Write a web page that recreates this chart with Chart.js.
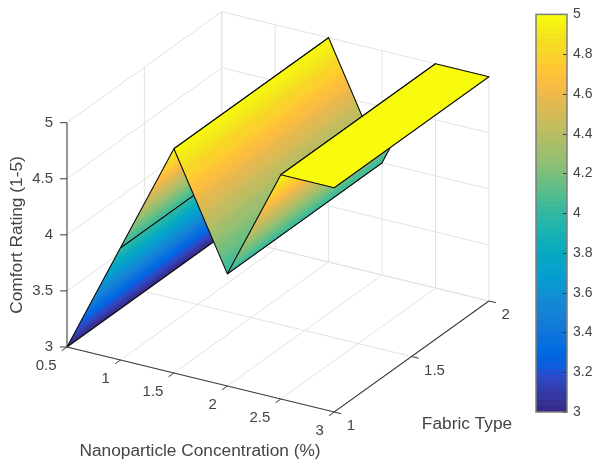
<!DOCTYPE html>
<html>
<head>
<meta charset="utf-8">
<title>Comfort Rating surface</title>
<script src="https://cdn.jsdelivr.net/npm/chart.js@4"></script>
<style>
    html, body { margin: 0; padding: 0; background: #ffffff; }
    #wrap { position: relative; width: 594px; height: 464px; overflow: hidden; }
    canvas { position: absolute; filter: blur(0.45px); }
</style>
</head>
<body>
<div id="wrap">
    <canvas id="surfaceChart" width="594" height="464" style="left:0;top:0"></canvas>
    <canvas id="colorbarChart" width="64" height="464" style="left:530px;top:0"></canvas>
</div>
<script>
const concentration = [0.5, 1, 1.5, 2, 2.5, 3];
const fabricType = [1, 2];
const comfortFabric1 = [3, 4, 5, 4, 5, 5];
const comfortFabric2 = [3, 4, 5, 4, 5, 5];

const xTicks = ['0.5', '1', '1.5', '2', '2.5', '3'];
const yTicks = ['1', '1.5', '2'];
const zTicks = ['3', '3.5', '4', '4.5', '5'];
const colorbarTicks = [3, 3.2, 3.4, 3.6, 3.8, 4, 4.2, 4.4, 4.6, 4.8, 5];

const PARULA = [
    [0.2081, 0.1663, 0.5292], [0.2116, 0.1898, 0.5777], [0.2123, 0.2138, 0.6270], [0.2081, 0.2386, 0.6771],
    [0.1959, 0.2645, 0.7279], [0.1707, 0.2919, 0.7792], [0.1253, 0.3242, 0.8303], [0.0591, 0.3598, 0.8683],
    [0.0117, 0.3875, 0.8820], [0.0060, 0.4086, 0.8828], [0.0165, 0.4266, 0.8786], [0.0329, 0.4430, 0.8720],
    [0.0498, 0.4586, 0.8641], [0.0629, 0.4737, 0.8554], [0.0723, 0.4887, 0.8467], [0.0779, 0.5040, 0.8384],
    [0.0793, 0.5200, 0.8312], [0.0749, 0.5375, 0.8263], [0.0641, 0.5570, 0.8240], [0.0488, 0.5772, 0.8228],
    [0.0343, 0.5966, 0.8199], [0.0265, 0.6137, 0.8135], [0.0239, 0.6287, 0.8038], [0.0231, 0.6418, 0.7913],
    [0.0228, 0.6535, 0.7768], [0.0267, 0.6642, 0.7607], [0.0384, 0.6743, 0.7436], [0.0590, 0.6838, 0.7254],
    [0.0843, 0.6928, 0.7062], [0.1133, 0.7015, 0.6859], [0.1453, 0.7098, 0.6646], [0.1801, 0.7177, 0.6424],
    [0.2178, 0.7250, 0.6193], [0.2586, 0.7317, 0.5954], [0.3022, 0.7376, 0.5712], [0.3482, 0.7424, 0.5473],
    [0.3953, 0.7459, 0.5244], [0.4420, 0.7481, 0.5033], [0.4871, 0.7491, 0.4840], [0.5300, 0.7491, 0.4661],
    [0.5709, 0.7485, 0.4494], [0.6099, 0.7473, 0.4337], [0.6473, 0.7456, 0.4188], [0.6834, 0.7435, 0.4044],
    [0.7184, 0.7411, 0.3905], [0.7525, 0.7384, 0.3768], [0.7858, 0.7356, 0.3633], [0.8185, 0.7327, 0.3498],
    [0.8507, 0.7299, 0.3360], [0.8824, 0.7274, 0.3217], [0.9139, 0.7258, 0.3063], [0.9450, 0.7261, 0.2886],
    [0.9739, 0.7314, 0.2666], [0.9938, 0.7455, 0.2403], [0.9990, 0.7653, 0.2164], [0.9955, 0.7861, 0.1967],
    [0.9880, 0.8066, 0.1794], [0.9789, 0.8271, 0.1633], [0.9697, 0.8481, 0.1475], [0.9626, 0.8705, 0.1309],
    [0.9589, 0.8949, 0.1132], [0.9598, 0.9218, 0.0948], [0.9661, 0.9514, 0.0755], [0.9763, 0.9831, 0.0538],
];

// view of the 3D box
const VIEW = { u0: 67, v0: 347, xu: 106.9, xv: 26, yu: 154.7, yv: -111, zv: -112.15 };
const X_MIN = 0.5, X_MAX = 3, Y_MIN = 1, Y_MAX = 2, Z_MIN = 3, Z_MAX = 5;

const GRID_COLOR = '#e2e2e2';
const AXIS_COLOR = '#3a3a3a';
const TEXT_COLOR = '#444444';
const FONT = '"Liberation Sans", Arial, sans-serif';

function project(x, y, z) {
    return {
        x: VIEW.u0 + (x - X_MIN) * VIEW.xu + (y - Y_MIN) * VIEW.yu,
        y: VIEW.v0 + (x - X_MIN) * VIEW.xv + (y - Y_MIN) * VIEW.yv + (z - Z_MIN) * VIEW.zv,
    };
}

function parulaColor(z) {
    const t = Math.min(1, Math.max(0, (z - Z_MIN) / (Z_MAX - Z_MIN)));
    const c = PARULA[Math.min(PARULA.length - 1, Math.floor(t * PARULA.length))];
    return `rgb(${Math.round(c[0] * 255)},${Math.round(c[1] * 255)},${Math.round(c[2] * 255)})`;
}

function lineSet(points, color, order, width) {
    return {
        data: points,
        showLine: true,
        fill: false,
        borderColor: color,
        borderWidth: width,
        pointRadius: 0,
        order,
    };
}

// isolines of a face run along the fabric direction, so the gradient is perpendicular to it
function faceGradient(context, i) {
    const chart = context.chart;
    const z0 = comfortFabric1[i];
    const z1 = comfortFabric1[i + 1];
    if (z0 === z1) return parulaColor(z0);
    const sx = chart.scales.x;
    const sy = chart.scales.y;
    const a = project(concentration[i], Y_MIN, z0);
    const b = project(concentration[i + 1], Y_MIN, z1);
    if (!sx || !sy || !Number.isFinite(sx.getPixelForValue(a.x)) || !Number.isFinite(sy.getPixelForValue(a.y))) {
        return parulaColor(z0); // scales not laid out yet
    }
    const ax = sx.getPixelForValue(a.x), ay = sy.getPixelForValue(a.y);
    const bx = sx.getPixelForValue(b.x), by = sy.getPixelForValue(b.y);
    const len = Math.hypot(VIEW.yu, VIEW.yv);
    const nx = -VIEW.yv / len, ny = VIEW.yu / len;
    const d = (bx - ax) * nx + (by - ay) * ny;
    const grad = chart.ctx.createLinearGradient(ax, ay, ax + nx * d, ay + ny * d);
    const steps = 24;
    for (let s = 0; s <= steps; s++) {
        grad.addColorStop(s / steps, parulaColor(z0 + (z1 - z0) * s / steps));
    }
    return grad;
}

function buildDatasets() {
    const sets = [];

    // back walls and floor grid
    xTicks.forEach((t) => {
        const x = Number(t);
        sets.push(lineSet([project(x, Y_MIN, Z_MIN), project(x, Y_MAX, Z_MIN), project(x, Y_MAX, Z_MAX)], GRID_COLOR, 100, 1));
    });
    yTicks.forEach((t) => {
        const y = Number(t);
        sets.push(lineSet([project(X_MAX, y, Z_MIN), project(X_MIN, y, Z_MIN), project(X_MIN, y, Z_MAX)], GRID_COLOR, 100, 1));
    });
    zTicks.forEach((t) => {
        const z = Number(t);
        sets.push(lineSet([project(X_MIN, Y_MIN, z), project(X_MIN, Y_MAX, z), project(X_MAX, Y_MAX, z)], GRID_COLOR, 100, 1));
    });

    // surface faces, far to near
    for (let i = 0; i < concentration.length - 1; i++) {
        sets.push({
            data: [
                project(concentration[i], fabricType[0], comfortFabric1[i]),
                project(concentration[i + 1], fabricType[0], comfortFabric1[i + 1]),
                project(concentration[i + 1], fabricType[1], comfortFabric2[i + 1]),
                project(concentration[i], fabricType[1], comfortFabric2[i]),
                project(concentration[i], fabricType[0], comfortFabric1[i]),
            ],
            showLine: true,
            fill: 'shape',
            backgroundColor: (context) => faceGradient(context, i),
            borderColor: '#0a0a0a',
            borderWidth: 1.1,
            borderJoinStyle: 'round',
            pointRadius: 0,
            order: 50 - i,
        });
    }

    // axis lines and tick marks
    sets.push(lineSet([project(X_MIN, Y_MIN, Z_MIN), project(X_MAX, Y_MIN, Z_MIN), project(X_MAX, Y_MAX, Z_MIN)], AXIS_COLOR, 1, 1.1));
    sets.push(lineSet([project(X_MIN, Y_MIN, Z_MIN), project(X_MIN, Y_MIN, Z_MAX)], '#777777', 60, 1.5));
    xTicks.forEach((t) => {
        const x = Number(t);
        sets.push(lineSet([project(x, Y_MIN, Z_MIN), project(x, Y_MIN - 0.034, Z_MIN)], AXIS_COLOR, 1, 1));
    });
    yTicks.forEach((t) => {
        const y = Number(t);
        sets.push(lineSet([project(X_MAX, y, Z_MIN), project(X_MAX + 0.065, y, Z_MIN)], AXIS_COLOR, 1, 1));
    });
    zTicks.forEach((t) => {
        const p = project(X_MIN, Y_MIN, Number(t));
        sets.push(lineSet([p, { x: p.x - 7, y: p.y }], AXIS_COLOR, 1, 1));
    });

    return sets;
}

const axisText = {
    id: 'axisText',
    afterDraw(chart) {
        const { ctx, scales } = chart;
        const put = (text, p, dx, dy, align) => {
            ctx.textAlign = align;
            ctx.fillText(text, scales.x.getPixelForValue(p.x) + dx, scales.y.getPixelForValue(p.y) + dy);
        };

        ctx.save();
        ctx.fillStyle = TEXT_COLOR;
        ctx.textBaseline = 'middle';
        ctx.font = `15px ${FONT}`;
        xTicks.forEach((t) => put(t, project(Number(t), Y_MIN, Z_MIN), -10.5, 19, 'right'));
        yTicks.forEach((t) => put(t, project(X_MAX, Number(t), Z_MIN), 12.5, 14, 'left'));
        zTicks.forEach((t) => put(t, project(X_MIN, Y_MIN, Number(t)), -14, 0, 'right'));

        ctx.font = `17.3px ${FONT}`;
        ctx.textAlign = 'center';
        ctx.fillText('Nanoparticle Concentration (%)', 200, 451);
        ctx.fillText('Fabric Type', 467, 424);
        ctx.translate(17, 235);
        ctx.rotate(-Math.PI / 2);
        ctx.fillText('Comfort Rating (1-5)', 0, 0);
        ctx.restore();
    },
};

new Chart(document.getElementById('surfaceChart'), {
    type: 'scatter',
    data: { datasets: buildDatasets() },
    options: {
        responsive: false,
        animation: false,
        layout: { padding: 0 },
        plugins: { legend: { display: false }, tooltip: { enabled: false } },
        scales: {
            x: { type: 'linear', min: 0, max: 594, display: false },
            y: { type: 'linear', min: 0, max: 464, reverse: true, display: false },
        },
    },
    plugins: [axisText],
});

const colorbarFrame = {
    id: 'colorbarFrame',
    afterDatasetsDraw(chart) {
        const { ctx, chartArea, scales } = chart;
        ctx.save();
        ctx.strokeStyle = '#3a3a3a';
        ctx.lineWidth = 1;
        scales.y.ticks.forEach((tick) => {
            const y = Math.round(scales.y.getPixelForValue(tick.value)) + 0.5;
            ctx.beginPath();
            ctx.moveTo(chartArea.right - 4, y);
            ctx.lineTo(chartArea.right, y);
            ctx.stroke();
        });
        ctx.strokeStyle = '#7d7d7d';
        ctx.lineWidth = 1.5;
        ctx.strokeRect(chartArea.left, chartArea.top, chartArea.right - chartArea.left, chartArea.bottom - chartArea.top);
        ctx.restore();
    },
};

function colorbarGradient(context) {
    const { chart } = context;
    const { chartArea } = chart;
    if (!chartArea) return parulaColor(Z_MIN); // not laid out yet
    const grad = chart.ctx.createLinearGradient(0, chartArea.bottom, 0, chartArea.top);
    PARULA.forEach((c, i) => {
        const color = parulaColor(Z_MIN + (Z_MAX - Z_MIN) * (i + 0.5) / PARULA.length);
        grad.addColorStop(i / PARULA.length, color);
        grad.addColorStop((i + 1) / PARULA.length, color);
    });
    return grad;
}

new Chart(document.getElementById('colorbarChart'), {
    type: 'bar',
    data: {
        labels: [''],
        datasets: [{
            data: [[Z_MIN, Z_MAX]],
            backgroundColor: colorbarGradient,
            barPercentage: 1,
            categoryPercentage: 1,
            borderSkipped: false,
        }],
    },
    options: {
        responsive: false,
        animation: false,
        layout: { padding: { left: 6, top: 11, right: 0, bottom: 52 } },
        plugins: { legend: { display: false }, tooltip: { enabled: false } },
        scales: {
            x: { display: false },
            y: {
                position: 'right',
                min: Z_MIN,
                max: Z_MAX,
                grid: { display: false, drawTicks: false },
                border: { display: false },
                afterBuildTicks(scale) {
                    scale.ticks = colorbarTicks.map((value) => ({ value }));
                },
                afterFit(scale) {
                    scale.width = 27;
                },
                ticks: {
                    padding: 6,
                    color: TEXT_COLOR,
                    font: { family: FONT, size: 14 },
                    callback: (value) => String(value),
                },
            },
        },
    },
    plugins: [colorbarFrame],
});
</script>
</body>
</html>
